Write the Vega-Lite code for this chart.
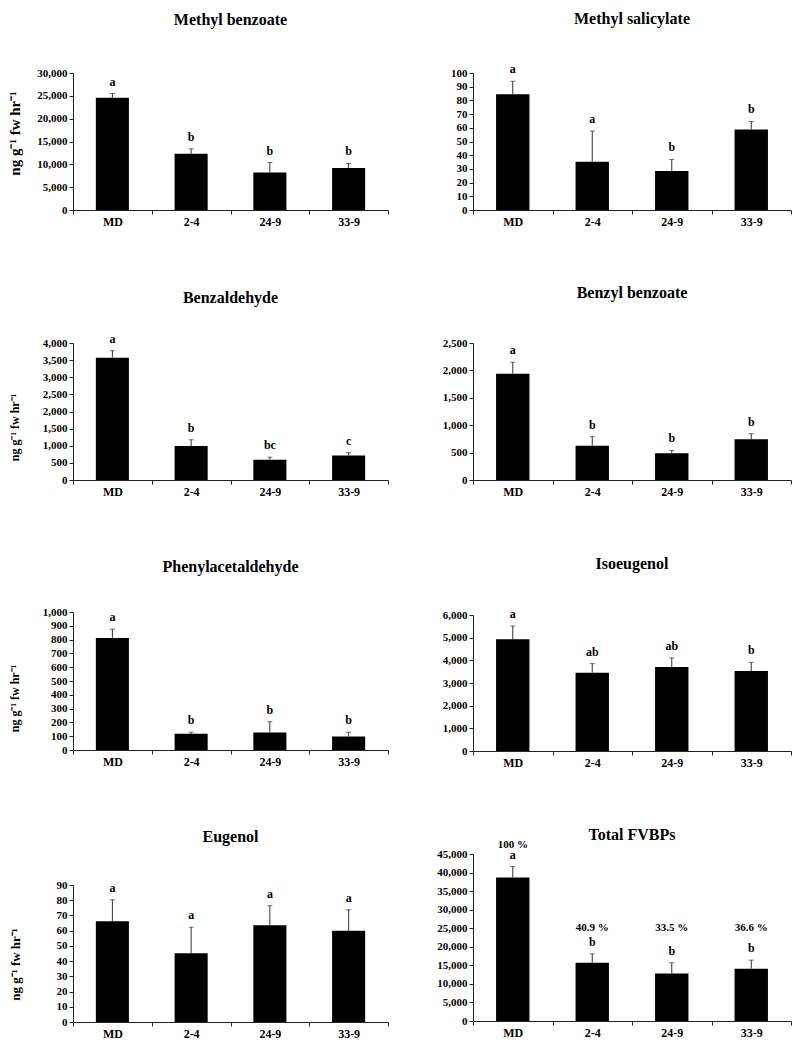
{
  "$schema": "https://vega.github.io/schema/vega-lite/v6.json",
  "background": "white",
  "padding": {"left": 7, "top": 11, "right": 5, "bottom": 5},
  "datasets": {
    "fv": [
      {"c": "Methyl benzoate", "line": "MD", "v": 24600, "top": 25500, "letter": "a"},
      {"c": "Methyl benzoate", "line": "2-4", "v": 12300, "top": 13400, "letter": "b"},
      {"c": "Methyl benzoate", "line": "24-9", "v": 8200, "top": 10400, "letter": "b"},
      {"c": "Methyl benzoate", "line": "33-9", "v": 9200, "top": 10200, "letter": "b"},
      {"c": "Methyl salicylate", "line": "MD", "v": 84.5, "top": 94, "letter": "a"},
      {"c": "Methyl salicylate", "line": "2-4", "v": 35.3, "top": 57.7, "letter": "a"},
      {"c": "Methyl salicylate", "line": "24-9", "v": 28.5, "top": 36.9, "letter": "b"},
      {"c": "Methyl salicylate", "line": "33-9", "v": 58.7, "top": 64.6, "letter": "b"},
      {"c": "Benzaldehyde", "line": "MD", "v": 3570, "top": 3775, "letter": "a"},
      {"c": "Benzaldehyde", "line": "2-4", "v": 990, "top": 1175, "letter": "b"},
      {"c": "Benzaldehyde", "line": "24-9", "v": 590, "top": 665, "letter": "bc"},
      {"c": "Benzaldehyde", "line": "33-9", "v": 715, "top": 800, "letter": "c"},
      {"c": "Benzyl benzoate", "line": "MD", "v": 1940, "top": 2150, "letter": "a"},
      {"c": "Benzyl benzoate", "line": "2-4", "v": 625, "top": 790, "letter": "b"},
      {"c": "Benzyl benzoate", "line": "24-9", "v": 490, "top": 540, "letter": "b"},
      {"c": "Benzyl benzoate", "line": "33-9", "v": 745, "top": 845, "letter": "b"},
      {"c": "Phenylacetaldehyde", "line": "MD", "v": 812, "top": 876, "letter": "a"},
      {"c": "Phenylacetaldehyde", "line": "2-4", "v": 117, "top": 129, "letter": "b"},
      {"c": "Phenylacetaldehyde", "line": "24-9", "v": 127, "top": 205, "letter": "b"},
      {"c": "Phenylacetaldehyde", "line": "33-9", "v": 98, "top": 129, "letter": "b"},
      {"c": "Isoeugenol", "line": "MD", "v": 4930, "top": 5515, "letter": "a"},
      {"c": "Isoeugenol", "line": "2-4", "v": 3455, "top": 3855, "letter": "ab"},
      {"c": "Isoeugenol", "line": "24-9", "v": 3705, "top": 4105, "letter": "ab"},
      {"c": "Isoeugenol", "line": "33-9", "v": 3530, "top": 3910, "letter": "b"},
      {"c": "Eugenol", "line": "MD", "v": 66.2, "top": 80.3, "letter": "a"},
      {"c": "Eugenol", "line": "2-4", "v": 45.1, "top": 62.3, "letter": "a"},
      {"c": "Eugenol", "line": "24-9", "v": 63.6, "top": 76.4, "letter": "a"},
      {"c": "Eugenol", "line": "33-9", "v": 59.9, "top": 73.7, "letter": "a"},
      {"c": "Total FVBPs", "line": "MD", "v": 38700, "top": 41600, "letter": "a", "pct": "100 %"},
      {"c": "Total FVBPs", "line": "2-4", "v": 15700, "top": 18100, "letter": "b", "pct": "40.9 %"},
      {"c": "Total FVBPs", "line": "24-9", "v": 12800, "top": 15700, "letter": "b", "pct": "33.5  %"},
      {"c": "Total FVBPs", "line": "33-9", "v": 14100, "top": 16400, "letter": "b", "pct": "36.6 %"}
    ]
  },
  "data": {"name": "fv"},
  "spacing": 47,
  "hconcat": [
    {
      "spacing": 62,
      "vconcat": [
        {
          "width": 315, "height": 137,
          "title": {"text": "Methyl benzoate", "offset": 39},
          "transform": [{"filter": "datum.c === 'Methyl benzoate'"}],
          "encoding": {"x": {"field": "line", "type": "nominal", "sort": ["MD", "2-4", "24-9", "33-9"], "title": null, "scale": {"paddingInner": 0, "paddingOuter": 0}}},
          "layer": [
            {"mark": {"type": "bar", "color": "#000", "width": {"band": 0.42}},
             "encoding": {"y": {"field": "v", "type": "quantitative", "title": "ng g⁻¹ fw hr⁻¹", "scale": {"domain": [0, 30000], "nice": false},
               "axis": {"values": [0, 5000, 10000, 15000, 20000, 25000, 30000], "tickCount": 30, "format": ",d", "titleX": -51, "titleY": 60, "titleFontSize": 15}}}},
            {"mark": {"type": "rule", "color": "#333"}, "encoding": {"y": {"field": "v", "type": "quantitative", "title": "ng g⁻¹ fw hr⁻¹"}, "y2": {"field": "top"}}},
            {"mark": {"type": "tick", "color": "#333", "size": 5, "thickness": 1}, "encoding": {"y": {"field": "top", "type": "quantitative", "title": "ng g⁻¹ fw hr⁻¹"}}},
            {"mark": {"type": "text", "baseline": "alphabetic", "dy": -8}, "encoding": {"y": {"field": "top", "type": "quantitative", "title": "ng g⁻¹ fw hr⁻¹"}, "text": {"field": "letter"}}}
          ]
        },
        {
          "width": 315, "height": 137,
          "title": {"text": "Benzaldehyde", "offset": 27},
          "transform": [{"filter": "datum.c === 'Benzaldehyde'"}],
          "encoding": {"x": {"field": "line", "type": "nominal", "sort": ["MD", "2-4", "24-9", "33-9"], "title": null, "scale": {"paddingInner": 0, "paddingOuter": 0}}},
          "layer": [
            {"mark": {"type": "bar", "color": "#000", "width": {"band": 0.42}},
             "encoding": {"y": {"field": "v", "type": "quantitative", "title": "ng g⁻¹ fw hr⁻¹", "scale": {"domain": [0, 4000], "nice": false},
               "axis": {"values": [0, 500, 1000, 1500, 2000, 2500, 3000, 3500, 4000], "tickCount": 30, "format": ",d", "titleX": -52, "titleY": 84, "titleFontSize": 12}}}},
            {"mark": {"type": "rule", "color": "#333"}, "encoding": {"y": {"field": "v", "type": "quantitative", "title": "ng g⁻¹ fw hr⁻¹"}, "y2": {"field": "top"}}},
            {"mark": {"type": "tick", "color": "#333", "size": 5, "thickness": 1}, "encoding": {"y": {"field": "top", "type": "quantitative", "title": "ng g⁻¹ fw hr⁻¹"}}},
            {"mark": {"type": "text", "baseline": "alphabetic", "dy": -8}, "encoding": {"y": {"field": "top", "type": "quantitative", "title": "ng g⁻¹ fw hr⁻¹"}, "text": {"field": "letter"}}}
          ]
        },
        {
          "width": 315, "height": 138,
          "title": {"text": "Phenylacetaldehyde", "offset": 31},
          "transform": [{"filter": "datum.c === 'Phenylacetaldehyde'"}],
          "encoding": {"x": {"field": "line", "type": "nominal", "sort": ["MD", "2-4", "24-9", "33-9"], "title": null, "scale": {"paddingInner": 0, "paddingOuter": 0}}},
          "layer": [
            {"mark": {"type": "bar", "color": "#000", "width": {"band": 0.42}},
             "encoding": {"y": {"field": "v", "type": "quantitative", "title": "ng g⁻¹ fw hr⁻¹", "scale": {"domain": [0, 1000], "nice": false},
               "axis": {"values": [0, 100, 200, 300, 400, 500, 600, 700, 800, 900, 1000], "tickCount": 30, "format": ",d", "titleX": -52, "titleY": 86, "titleFontSize": 12}}}},
            {"mark": {"type": "rule", "color": "#333"}, "encoding": {"y": {"field": "v", "type": "quantitative", "title": "ng g⁻¹ fw hr⁻¹"}, "y2": {"field": "top"}}},
            {"mark": {"type": "tick", "color": "#333", "size": 5, "thickness": 1}, "encoding": {"y": {"field": "top", "type": "quantitative", "title": "ng g⁻¹ fw hr⁻¹"}}},
            {"mark": {"type": "text", "baseline": "alphabetic", "dy": -8}, "encoding": {"y": {"field": "top", "type": "quantitative", "title": "ng g⁻¹ fw hr⁻¹"}, "text": {"field": "letter"}}}
          ]
        },
        {
          "width": 315, "height": 137,
          "title": {"text": "Eugenol", "offset": 34},
          "transform": [{"filter": "datum.c === 'Eugenol'"}],
          "encoding": {"x": {"field": "line", "type": "nominal", "sort": ["MD", "2-4", "24-9", "33-9"], "title": null, "scale": {"paddingInner": 0, "paddingOuter": 0}}},
          "layer": [
            {"mark": {"type": "bar", "color": "#000", "width": {"band": 0.42}},
             "encoding": {"y": {"field": "v", "type": "quantitative", "title": "ng g⁻¹ fw hr⁻¹", "scale": {"domain": [0, 90], "nice": false},
               "axis": {"values": [0, 10, 20, 30, 40, 50, 60, 70, 80, 90], "tickCount": 30, "format": ",d", "titleX": -51, "titleY": 79, "titleFontSize": 13}}}},
            {"mark": {"type": "rule", "color": "#333"}, "encoding": {"y": {"field": "v", "type": "quantitative", "title": "ng g⁻¹ fw hr⁻¹"}, "y2": {"field": "top"}}},
            {"mark": {"type": "tick", "color": "#333", "size": 5, "thickness": 1}, "encoding": {"y": {"field": "top", "type": "quantitative", "title": "ng g⁻¹ fw hr⁻¹"}}},
            {"mark": {"type": "text", "baseline": "alphabetic", "dy": -8}, "encoding": {"y": {"field": "top", "type": "quantitative", "title": "ng g⁻¹ fw hr⁻¹"}, "text": {"field": "letter"}}}
          ]
        }
      ]
    },
    {
      "spacing": 58,
      "vconcat": [
        {
          "width": 318, "height": 137,
          "title": {"text": "Methyl salicylate", "offset": 36},
          "transform": [{"filter": "datum.c === 'Methyl salicylate'"}],
          "encoding": {"x": {"field": "line", "type": "nominal", "sort": ["MD", "2-4", "24-9", "33-9"], "title": null, "scale": {"paddingInner": 0, "paddingOuter": 0}}},
          "layer": [
            {"mark": {"type": "bar", "color": "#000", "width": {"band": 0.42}},
             "encoding": {"y": {"field": "v", "type": "quantitative", "title": null, "scale": {"domain": [0, 100], "nice": false},
               "axis": {"values": [0, 10, 20, 30, 40, 50, 60, 70, 80, 90, 100], "tickCount": 30, "format": ",d"}}}},
            {"mark": {"type": "rule", "color": "#333"}, "encoding": {"y": {"field": "v", "type": "quantitative", "title": null}, "y2": {"field": "top"}}},
            {"mark": {"type": "tick", "color": "#333", "size": 5, "thickness": 1}, "encoding": {"y": {"field": "top", "type": "quantitative", "title": null}}},
            {"mark": {"type": "text", "baseline": "alphabetic", "dy": -8}, "encoding": {"y": {"field": "top", "type": "quantitative", "title": null}, "text": {"field": "letter"}}}
          ]
        },
        {
          "width": 318, "height": 137,
          "title": {"text": "Benzyl benzoate", "offset": 36},
          "transform": [{"filter": "datum.c === 'Benzyl benzoate'"}],
          "encoding": {"x": {"field": "line", "type": "nominal", "sort": ["MD", "2-4", "24-9", "33-9"], "title": null, "scale": {"paddingInner": 0, "paddingOuter": 0}}},
          "layer": [
            {"mark": {"type": "bar", "color": "#000", "width": {"band": 0.42}},
             "encoding": {"y": {"field": "v", "type": "quantitative", "title": null, "scale": {"domain": [0, 2500], "nice": false},
               "axis": {"values": [0, 500, 1000, 1500, 2000, 2500], "tickCount": 30, "format": ",d"}}}},
            {"mark": {"type": "rule", "color": "#333"}, "encoding": {"y": {"field": "v", "type": "quantitative", "title": null}, "y2": {"field": "top"}}},
            {"mark": {"type": "tick", "color": "#333", "size": 5, "thickness": 1}, "encoding": {"y": {"field": "top", "type": "quantitative", "title": null}}},
            {"mark": {"type": "text", "baseline": "alphabetic", "dy": -8}, "encoding": {"y": {"field": "top", "type": "quantitative", "title": null}, "text": {"field": "letter"}}}
          ]
        },
        {
          "width": 318, "height": 136,
          "title": {"text": "Isoeugenol", "offset": 36},
          "transform": [{"filter": "datum.c === 'Isoeugenol'"}],
          "encoding": {"x": {"field": "line", "type": "nominal", "sort": ["MD", "2-4", "24-9", "33-9"], "title": null, "scale": {"paddingInner": 0, "paddingOuter": 0}}},
          "layer": [
            {"mark": {"type": "bar", "color": "#000", "width": {"band": 0.42}},
             "encoding": {"y": {"field": "v", "type": "quantitative", "title": null, "scale": {"domain": [0, 6000], "nice": false},
               "axis": {"values": [0, 1000, 2000, 3000, 4000, 5000, 6000], "tickCount": 30, "format": ",d"}}}},
            {"mark": {"type": "rule", "color": "#333"}, "encoding": {"y": {"field": "v", "type": "quantitative", "title": null}, "y2": {"field": "top"}}},
            {"mark": {"type": "tick", "color": "#333", "size": 5, "thickness": 1}, "encoding": {"y": {"field": "top", "type": "quantitative", "title": null}}},
            {"mark": {"type": "text", "baseline": "alphabetic", "dy": -8}, "encoding": {"y": {"field": "top", "type": "quantitative", "title": null}, "text": {"field": "letter"}}}
          ]
        },
        {
          "width": 318, "height": 167,
          "title": {"text": "Total FVBPs", "offset": -4},
          "transform": [{"filter": "datum.c === 'Total FVBPs'"}],
          "encoding": {"x": {"field": "line", "type": "nominal", "sort": ["MD", "2-4", "24-9", "33-9"], "title": null, "scale": {"paddingInner": 0, "paddingOuter": 0}}},
          "layer": [
            {"mark": {"type": "bar", "color": "#000", "width": {"band": 0.42}},
             "encoding": {"y": {"field": "v", "type": "quantitative", "title": null, "scale": {"domain": [0, 45000], "nice": false},
               "axis": {"values": [0, 5000, 10000, 15000, 20000, 25000, 30000, 35000, 40000, 45000], "tickCount": 30, "format": ",d"}}}},
            {"mark": {"type": "rule", "color": "#333"}, "encoding": {"y": {"field": "v", "type": "quantitative", "title": null}, "y2": {"field": "top"}}},
            {"mark": {"type": "tick", "color": "#333", "size": 5, "thickness": 1}, "encoding": {"y": {"field": "top", "type": "quantitative", "title": null}}},
            {"mark": {"type": "text", "baseline": "alphabetic", "dy": -8}, "encoding": {"y": {"field": "top", "type": "quantitative", "title": null}, "text": {"field": "letter"}}},
            {"transform": [{"filter": "datum.line === 'MD'"}],
             "mark": {"type": "text", "baseline": "alphabetic", "dy": -19, "fontSize": 11}, "encoding": {"y": {"field": "top", "type": "quantitative", "title": null}, "text": {"field": "pct"}}},
            {"transform": [{"filter": "datum.line !== 'MD'"}],
             "mark": {"type": "text", "baseline": "middle", "fontSize": 11}, "encoding": {"y": {"datum": 25000, "type": "quantitative", "title": null}, "text": {"field": "pct"}}}
          ]
        }
      ]
    }
  ],
  "config": {
    "font": "Liberation Serif",
    "view": {"stroke": null},
    "axis": {"labelFont": "Liberation Serif", "labelFontWeight": "bold", "labelColor": "#000", "domainColor": "#222", "tickColor": "#222", "grid": false, "tickSize": 4, "labelPadding": 2, "labelOverlap": false, "titleFont": "Liberation Serif", "titleFontWeight": "bold", "titleColor": "#000"},
    "axisY": {"labelFontSize": 11, "labelOverlap": false, "tickCount": 30},
    "axisX": {"labelFontSize": 12, "labelAngle": 0, "tickBand": "extent"},
    "title": {"font": "Liberation Serif", "fontSize": 16, "fontWeight": "bold", "color": "#000", "frame": "group", "anchor": "middle"},
    "text": {"font": "Liberation Serif", "fontWeight": "bold", "fontSize": 12, "color": "#000"}
  }
}
